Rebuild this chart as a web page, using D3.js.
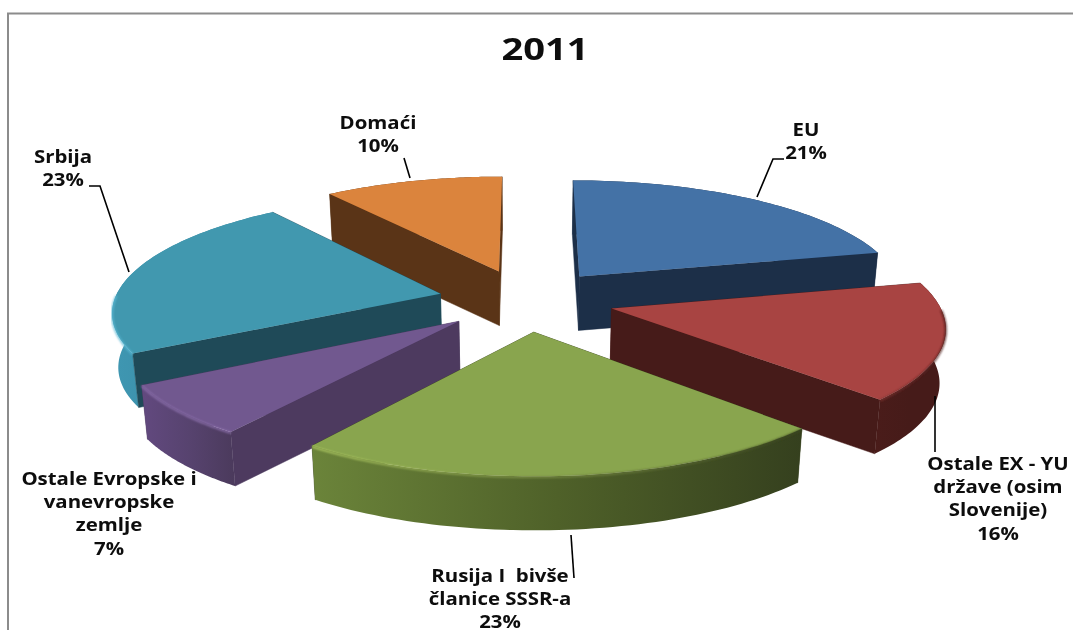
<!DOCTYPE html>
<html><head><meta charset="utf-8">
<script src="https://cdnjs.cloudflare.com/ajax/libs/d3/7.8.5/d3.min.js"></script>
<style>html,body{margin:0;padding:0;background:#fff;overflow:hidden}
text{font-family:"Open Sans",sans-serif;font-weight:700;fill:#0a0a0a;text-anchor:middle}</style>
</head><body><svg id="c" width="1073" height="630"></svg>
<script>
const chartTitle = "2011";
const categories = ["EU","Ostale EX - YU države (osim Slovenije)","Rusija I bivše članice SSSR-a","Ostale Evropske i vanevropske zemlje","Srbija","Domaći"];
const values = [21.4,16.0,22.5,6.9,22.9,10.3];
const labelLines = [["EU","21%"],["Ostale EX - YU","države (osim","Slovenije)","16%"],["Rusija I  bivše","članice SSSR-a","23%"],["Ostale Evropske i","vanevropske","zemlje","7%"],["Srbija","23%"],["Domaći","10%"]];
const topColors = ["#4472a6","#a84442","#89a54e","#71588f","#4198af","#db843d"];
const radialColors = ["#1c2f48","#461b19","#38431f","#4d3a5f","#1f4a58","#5a3417"];
const wallStops = [["#1c2f48","#1c2f48","#1c2f48"],["#4a1c1a","#461b19","#461b19"],["#6b843a","#4f6129","#35401e"],["#62497f","#57436f","#4b3a5c"],["#3f97b2","#3a8ca6","#2f7d96"],["#5a3417","#5a3417","#5a3417"]];
const bevelStops = [["#4472a6","#4472a6"],["#7c3230","#4a1c1a"],["#b4d066","#3a4520"],["#8f72b0","#8f72b0"],["#58b8d4","#58b8d4"],["#db843d","#db843d"]];
const labelAnchors = [[806,136],[998,470],[500,582],[109,485],[63,163],[378,129]];
const lineGap = 23.2;
const leaders = [[[784,159],[773,159],[757,197]],[[935,396],[935,452]],[[571,535],[574,578]],[],[[89,186],[100,186],[129,272]],[[404,158],[410,178]]];

const svg = d3.select("#c");
const W = 1073, H = 630;
const cx = 526, cy = 300, A = 326, B = 115, k = 0.136, depth = 54, explode = 0.27;
const xS = d3.scaleLinear().domain([0,1]).range([cx, cx + A]);
const yS = d3.scaleLinear().domain([0,1]).range([cy, cy - B]);
function project(u, v, z) {
  const w = 1 + k * v;
  const sx = xS(u / w);
  return [cx + (sx - cx) * (1 - 0.015 * z), yS(v / w) + depth * z];
}
const arcs = d3.pie().sort(null).value(d => d)(values);
const line = d3.line();
const defs = svg.append("defs");
defs.append("filter").attr("id","soft").append("feGaussianBlur").attr("stdDeviation",0.45);
defs.append("filter").attr("id","bev").attr("x","-5%").attr("y","-5%").attr("width","110%").attr("height","110%").append("feGaussianBlur").attr("stdDeviation",0.9);
wallStops.forEach((s,i)=>{
  const g = defs.append("linearGradient").attr("id","w"+i).attr("x1",0).attr("x2",1).attr("y1",0).attr("y2",0);
  [0,50,100].forEach((o,j)=>g.append("stop").attr("offset",o+"%").attr("stop-color",s[j]));
});
bevelStops.forEach((s,i)=>{
  const g = defs.append("linearGradient").attr("id","b"+i).attr("x1",0).attr("x2",1).attr("y1",0).attr("y2",0);
  g.append("stop").attr("offset","0%").attr("stop-color",s[0]);
  g.append("stop").attr("offset","100%").attr("stop-color",s[1]);
});

// frame
svg.append("path").attr("d",line([[8,H],[8,13.5],[W,13.5]])).attr("fill","none").attr("stroke","#8c8c8c").attr("stroke-width",2);

const slices = arcs.map((d,i)=>{
  const mid = (d.startAngle+d.endAngle)/2;
  const ou = explode*Math.sin(mid), ov = explode*Math.cos(mid);
  const pt = (a,z)=>project(ou+Math.sin(a), ov+Math.cos(a), z);
  const apex = z=>project(ou,ov,z);
  const angs = d3.range(0,61).map(t=>d.startAngle+(d.endAngle-d.startAngle)*t/60);
  return {i,mid,ov,pt,apex,angs};
}).sort((a,b)=>b.ov-a.ov);

svg.selectAll("g.slice").data(slices).join("g").attr("class","slice").each(function(s){
  const g = d3.select(this), i = s.i, a = s.angs;
  const aS = a[0], aE = a[a.length-1];
  const radial = a0 => g.append("path").attr("d",line([s.apex(0), s.pt(a0,0), s.pt(a0,1), s.apex(1)])+"Z")
      .attr("fill",radialColors[i]).attr("stroke",radialColors[i]).attr("stroke-width",0.5);
  const startFront = Math.sin(aS) < -1e-6, endFront = Math.sin(aE) > 1e-6;
  if(!startFront) radial(aS);
  if(!endFront) radial(aE);
  const outer = a.map(t=>s.pt(t,0)).concat(a.slice().reverse().map(t=>s.pt(t,1)));
  g.append("path").attr("d",line(outer)+"Z").attr("fill",`url(#w${i})`);
  if(startFront) radial(aS);
  if(endFront) radial(aE);
  g.append("path").attr("d",line([s.apex(0)].concat(a.map(t=>s.pt(t,0))))+"Z").attr("fill",topColors[i]);
  const front = a.filter(t=>Math.cos(t)<0);
  if(front.length>1) g.append("path").attr("d",line(front.map(t=>s.pt(t,0.015)))).attr("fill","none")
     .attr("stroke",`url(#b${i})`).attr("stroke-width",1.8).attr("filter","url(#bev)");
});

// leaders
svg.selectAll("path.leader").data(leaders.filter(l=>l.length)).join("path").attr("class","leader")
  .attr("d",d=>line(d)).attr("fill","none").attr("stroke","#000").attr("stroke-width",1.6);

// labels
const tG = svg.append("g").attr("filter","url(#soft)");
labelLines.forEach((ls,i)=>{
  ls.forEach((t,j)=>{
    tG.append("text").attr("transform",`translate(${labelAnchors[i][0]},${labelAnchors[i][1]+j*lineGap}) scale(1.2,1)`)
      .attr("font-size",17).attr("xml:space","preserve").text(t);
  });
});
tG.append("text").attr("transform","translate(545,60) scale(1.27,1)").attr("font-size",30).text(chartTitle);
</script></body></html>
